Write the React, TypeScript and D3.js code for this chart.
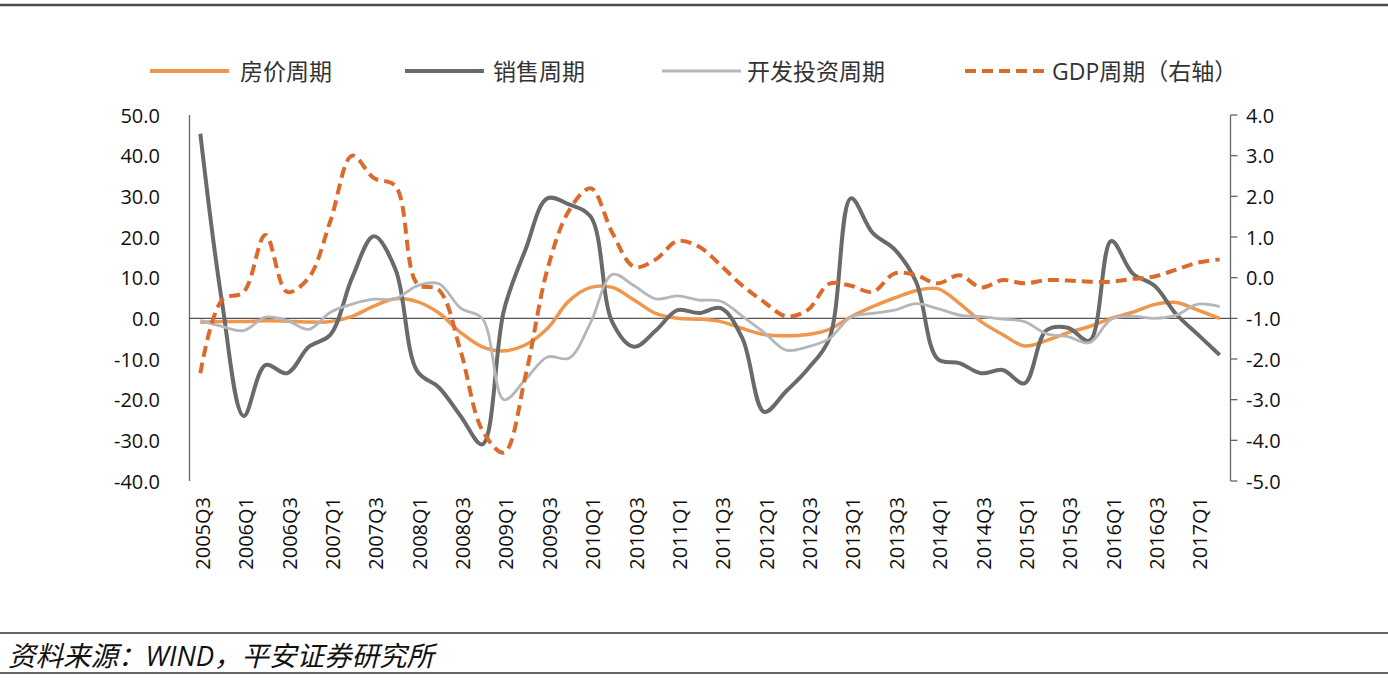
import React from "react";
import * as d3 from "d3";

const quarters: string[] = [];
for (let y = 2005; y <= 2017; y++) {
  for (let q = 1; q <= 4; q++) {
    if (y === 2005 && q < 3) continue;
    if (y === 2017 && q > 2) continue;
    quarters.push(`${y}Q${q}`);
  }
}

const housePrice = [
  -1, -0.8, -0.8, -0.6, -0.7, -0.9, -0.8, 0.5, 3, 4.8, 4.1, 1.3, -3.5, -7, -8, -6.5,
  -2.5, 4.3, 7.6, 7.6, 4.5, 1.2, 0, -0.2, -0.8, -2.5, -4, -4.3, -4, -2.7, 0.4, 2.9,
  5, 6.8, 7.3, 3.7, -0.8, -4, -6.8, -5.5, -3.5, -2, 0, 1.5, 3.4, 3.9, 2, 0,
];
const sales = [
  45.4, 4, -24, -11.5, -13.5, -7, -4, 10, 20.2, 12, -13, -17, -24, -31, 2, 17,
  29.5, 28, 25, -1, -7, -3, 2, 1.3, 2.5, -5, -23, -18, -12.5, -5, 29.5, 21,
  17, 9, -10, -11, -13.5, -12.7, -16, -3, -2.3, -5.5, 19, 11, 8, 1, -4, -9,
];
const investment = [
  -0.5, -2, -3, 0.3, -0.5, -2.7, 1.5, 3.5, 4.7, 4.8, 8, 8.5, 2.5, 0, -20, -15,
  -9.5, -9.8, -1, 10.8, 8, 4.8, 5.5, 4.5, 4.2, 0.5, -3.5, -7.8, -7, -5, 0.3, 1.2,
  2, 3.6, 2.4, 0.8, 0.4, -0.2, -0.8, -3.8, -4.5, -6, -0.2, 0.5, 0, 0.8, 3.5, 2.9,
];
const gdp = [
  -2.35, -0.55, -0.35, 1.05, -0.35, 0, 1.4, 3.0, 2.45, 2.25, -0.15, -0.3, -1.8, -3.75, -4.3, -2.4,
  0.2, 1.65, 2.2, 1.1, 0.27, 0.45, 0.9, 0.76, 0.3, -0.2, -0.6, -0.95, -0.8, -0.15, -0.2, -0.35,
  0.1, 0.06, -0.14, 0.06, -0.24, -0.06, -0.14, -0.06, -0.07, -0.1, -0.1, -0.03, 0.03, 0.2, 0.37, 0.45,
];

const leftTicks = [50, 40, 30, 20, 10, 0, -10, -20, -30, -40];
const rightTicks = [4, 3, 2, 1, 0, -1, -2, -3, -4, -5];

const legendItems = [
  { label: "房价周期", color: "#F0974E", width: 4, dash: "", lx: 150, tx: 240 },
  { label: "销售周期", color: "#6A6A6A", width: 4, dash: "", lx: 405, tx: 493 },
  { label: "开发投资周期", color: "#B4B6BA", width: 3, dash: "", lx: 662, tx: 747 },
  { label: "GDP周期（右轴）", color: "#DB6B2C", width: 4, dash: "11,6", lx: 965, tx: 1052 },
];

const W = 1388;
const H = 680;
const plotL = 189.5;
const plotR = 1230.5;
const plotT = 115;
const plotB = 481;

export default function App() {
  const x = d3.scaleBand<string>().domain(quarters).range([plotL, plotR]);
  const cx = (i: number) => (x(quarters[i]) as number) + x.bandwidth() / 2;
  const yL = d3.scaleLinear().domain([-40, 50]).range([plotB, plotT]);
  const yR = d3.scaleLinear().domain([-5, 4]).range([plotB, plotT]);

  const lineL = d3
    .line<number>()
    .x((_, i) => cx(i))
    .y((d) => yL(d))
    .curve(d3.curveCatmullRom.alpha(0.5));
  const lineR = d3
    .line<number>()
    .x((_, i) => cx(i))
    .y((d) => yR(d))
    .curve(d3.curveCatmullRom.alpha(0.5));

  const font = "'Open Sans', 'Noto Sans CJK SC', sans-serif";

  return (
    <svg
      width={W}
      height={H}
      style={{ position: "absolute", left: 0, top: 0, background: "#fff" }}
      fontFamily={font}
    >
      <rect x={0} y={0} width={W} height={H} fill="#fff" />
      {/* top rule */}
      <line x1={0} x2={W} y1={5} y2={5} stroke="#4a4a4a" strokeWidth={2.5} />

      {/* legend */}
      {legendItems.map((it) => (
        <g key={it.label}>
          <line
            x1={it.lx}
            x2={it.lx + 79}
            y1={71}
            y2={71}
            stroke={it.color}
            strokeWidth={it.width}
            strokeDasharray={it.dash || undefined}
          />
          <text x={it.tx} y={71} fontSize={23} dominantBaseline="central" fill="#333">
            {it.label}
          </text>
        </g>
      ))}

      {/* left axis */}
      <line x1={plotL} x2={plotL} y1={plotT} y2={plotB} stroke="#666" strokeWidth={1.3} />
      {leftTicks.map((t) => (
        <text key={t} x={160} y={yL(t)} fontSize={20} textAnchor="end" dominantBaseline="central" fill="#111">
          {t.toFixed(1)}
        </text>
      ))}

      {/* right axis */}
      <line x1={plotR} x2={plotR} y1={plotT} y2={plotB} stroke="#666" strokeWidth={1.3} />
      {rightTicks.map((t) => (
        <g key={t}>
          <line x1={plotR} x2={plotR + 7} y1={yR(t)} y2={yR(t)} stroke="#666" strokeWidth={1.3} />
          <text x={1246} y={yR(t)} fontSize={20} dominantBaseline="central" fill="#111">
            {t.toFixed(1)}
          </text>
        </g>
      ))}

      {/* zero line */}
      <line x1={plotL} x2={plotR} y1={yL(0)} y2={yL(0)} stroke="#555" strokeWidth={1.3} />

      {/* x labels */}
      {quarters.map((q, i) =>
        i % 2 === 0 ? (
          <text
            key={q}
            transform={`translate(${cx(i) + 2},497) rotate(-90)`}
            fontSize={20}
            textAnchor="end"
            dominantBaseline="central"
            fill="#111"
          >
            {q}
          </text>
        ) : null
      )}

      {/* series */}
      <path d={lineL(housePrice) || ""} fill="none" stroke="#F0974E" strokeWidth={3.5} />
      <path d={lineL(sales) || ""} fill="none" stroke="#6A6A6A" strokeWidth={4} />
      <path d={lineL(investment) || ""} fill="none" stroke="#B4B6BA" strokeWidth={2.8} />
      <path d={lineR(gdp) || ""} fill="none" stroke="#DB6B2C" strokeWidth={4} strokeDasharray="11,6" />

      {/* source */}
      <line x1={0} x2={W} y1={633} y2={633} stroke="#333" strokeWidth={1.5} />
      <text x={8} y={655} fontSize={27.5} fontStyle="italic" dominantBaseline="central" fill="#111">
        资料来源：WIND，平安证券研究所
      </text>
      <line x1={0} x2={W} y1={673} y2={673} stroke="#333" strokeWidth={1.5} />
    </svg>
  );
}
